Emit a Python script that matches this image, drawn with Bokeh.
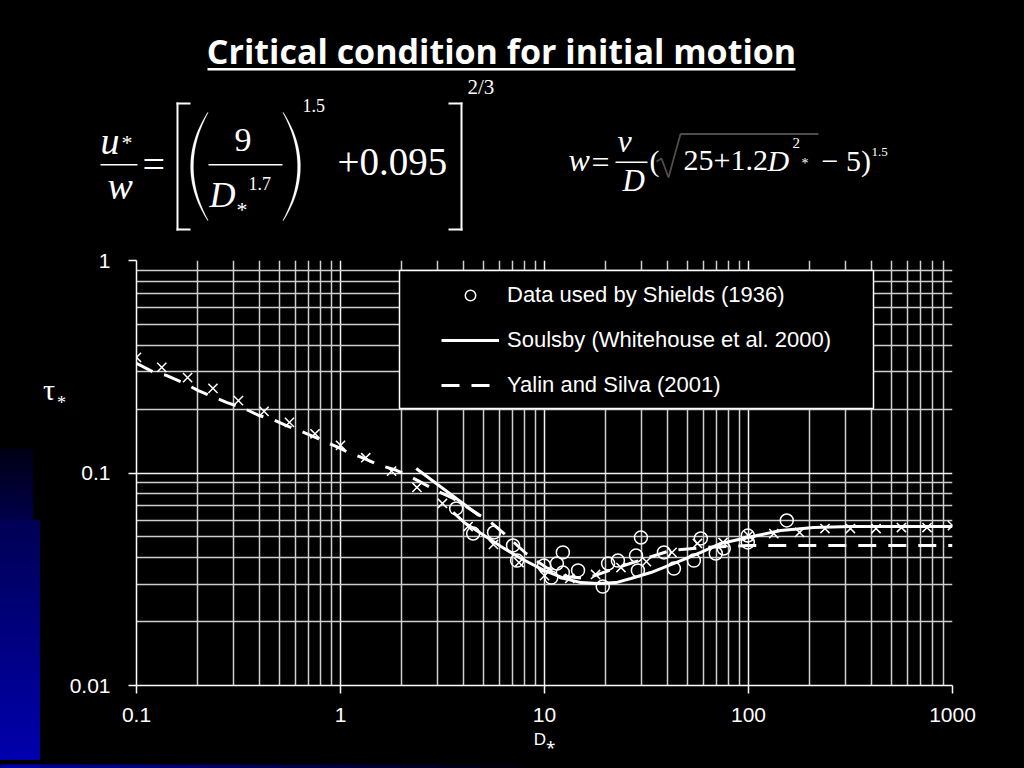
import numpy as np
from bokeh.plotting import figure
from bokeh.layouts import column, row
from bokeh.models import (FixedTicker, Label, BoxAnnotation, PolyAnnotation, Legend, LegendItem,
                          CustomJSTickFormatter, GlobalInlineStyleSheet, Div)
from bokeh.core.validation import silence
from bokeh.core.validation.warnings import MISSING_RENDERERS
from bokeh.embed import file_html
from bokeh.resources import INLINE

silence(MISSING_RENDERERS, True)

# ---------------- data ----------------
shields_d = [3.69, 4.47, 5.66, 7.01, 7.34, 9.95, 10.8, 11.5, 12.3, 12.3, 14.6, 19.3, 20.5, 22.9,
             28.1, 28.7, 29.7, 38.5, 43.1, 54.0, 58.4, 69.1, 75.6, 99.2, 99.2, 154]
shields_tau = [0.0681, 0.0519, 0.0525, 0.0456, 0.0387, 0.0367, 0.0322, 0.0375, 0.0423, 0.0340,
               0.0348, 0.0292, 0.0375, 0.0387, 0.0409, 0.0348, 0.0497, 0.0423, 0.0355, 0.0387,
               0.0492, 0.0418, 0.0441, 0.0508, 0.0471, 0.0598]

soulsby_d = [3.57, 4.04, 4.89, 6.12, 7.67, 9.95, 12.5, 15.1, 18.3, 22.4, 26.5, 33.2, 46.6, 58.4,
             73.1, 99.2, 144, 209, 317, 557, 1000]
soulsby_tau = [0.0652, 0.0585, 0.0519, 0.0451, 0.0396, 0.0348, 0.0319, 0.0305, 0.0302, 0.0305,
               0.0319, 0.0340, 0.0387, 0.0423, 0.0466, 0.0497, 0.0536, 0.0554, 0.0560, 0.0560, 0.0560]

yalin_d = [0.1, 0.1225, 0.140, 0.172, 0.201, 0.241, 0.276, 0.338, 0.396, 0.474, 0.543, 0.664, 0.778,
           0.975, 1.09, 1.31, 1.55, 1.88, 2.15, 2.54, 2.94, 3.57, 5.47, 6.34, 7.09, 8.12, 10.2, 12.7,
           16.0, 24.5, 41.6, 60.4, 99.2, 1000]
yalin_tau = [0.328, 0.297, 0.288, 0.264, 0.244, 0.227, 0.215, 0.201, 0.187, 0.177, 0.167, 0.155, 0.145,
             0.132, 0.125, 0.117, 0.109, 0.103, 0.0973, 0.0893, 0.0827, 0.0759, 0.0585, 0.0519, 0.0471,
             0.0418, 0.0359, 0.0326, 0.0319, 0.0367, 0.0432, 0.0446, 0.0456, 0.0456]

cross_d = [0.1, 0.133, 0.178, 0.237, 0.316, 0.422, 0.562, 0.75, 1.0, 1.33, 1.78, 2.37, 3.16, 4.22,
           5.62, 7.5, 10, 13.3, 17.8, 23.7, 31.6, 42.2, 56.2, 75, 100, 133, 178, 237, 316, 422, 562,
           750, 1000]
cross_tau = [0.350, 0.314, 0.281, 0.250, 0.219, 0.195, 0.173, 0.153, 0.135, 0.118, 0.102, 0.0855,
             0.0719, 0.0560, 0.0461, 0.0379, 0.0329, 0.0319, 0.0333, 0.0359, 0.0383, 0.0423, 0.0466,
             0.0471, 0.0508, 0.0519, 0.0525, 0.0548, 0.0548, 0.0548, 0.0554, 0.0554, 0.0566]

seg_d = [2.35, 4.78]
seg_tau = [0.105, 0.0631]

x_ticks = [0.1, 1, 10, 100, 1000]
x_tick_labels = ["0.1", "1", "10", "100", "1000"]
y_ticks = [0.01, 0.1, 1]
y_tick_labels = ["0.01", "0.1", "1"]

legend_labels = ["Data used by Shields (1936)", "Soulsby (Whitehouse et al. 2000)", "Yalin and Silva (2001)"]
title_text = "Critical condition for initial motion"
x_title = "D\u204e"

# ---------------- layout (page pixels) ----------------
PAGE_W, PAGE_H = 1024, 768
HEAD_H = 236          # header band with title and equations
FOOT_H = 8            # thin band at the very bottom
STRIP_W = 66          # left band with the y title
MID_H = PAGE_H - HEAD_H - FOOT_H
FL, FR, FT, FB = 135, 952, 260, 685   # plot frame edges in page pixels
BASE = 0.385          # label baseline correction (fraction of font size)


def blank(w, h):
    f = figure(width=w, height=h, output_backend="svg", toolbar_location=None,
               x_range=(0, 1), y_range=(0, 1), min_border=0,
               x_axis_location=None, y_axis_location=None, title=None)
    f.background_fill_color = "black"
    f.border_fill_color = "black"
    f.outline_line_color = None
    f.xgrid.visible = False
    f.ygrid.visible = False
    return f


def box(f, org, x0, x1, y0, y1, color="white", alpha=1.0, line=None, lw=0):
    ox, ob = org
    f.add_layout(BoxAnnotation(left=x0 - ox, right=x1 - ox, top=ob - y0, bottom=ob - y1,
                               left_units="screen", right_units="screen",
                               top_units="screen", bottom_units="screen",
                               fill_color=color, fill_alpha=alpha, line_color=line, line_width=lw,
                               line_alpha=1.0 if line else 0.0))


def txt(f, org, s, X, Y, size, font="Liberation Serif", style="normal", align="left"):
    ox, ob = org
    f.add_layout(Label(x=X - ox, y=ob - Y + BASE * size, x_units="screen", y_units="screen", text=s,
                       text_font=font, text_font_size=f"{size}px", text_font_style=style,
                       text_color="white", text_align=align, text_baseline="alphabetic"))


def poly(f, org, pts, fill=True, lw=1.0):
    ox, ob = org
    f.add_layout(PolyAnnotation(xs=[a - ox for a, b in pts], ys=[ob - b for a, b in pts],
                                xs_units="screen", ys_units="screen",
                                fill_color="white", fill_alpha=1.0 if fill else 0.0,
                                line_color="white", line_width=lw))


def paren(f, org, x_end, x_mid, y_top, y_bot, n=30):
    t = np.linspace(-1, 1, n)
    ys = (y_top + y_bot) / 2 + (y_bot - y_top) / 2 * t
    outer = x_end + (x_mid - x_end) * (1 - t ** 2)
    sgn = 1 if x_mid < x_end else -1
    inner = outer + sgn * (0.8 + 2.2 * (1 - t ** 2))
    pts = list(zip(outer, ys)) + list(zip(inner[::-1], ys[::-1]))
    poly(f, org, pts, fill=True, lw=0.5)


# ---------------- header: title + equations ----------------
head = blank(PAGE_W, HEAD_H)
head.stylesheets = [GlobalInlineStyleSheet(css="html, body { background-color: #000000; margin: 0; }")]
H0 = (0, HEAD_H)
txt(head, H0, title_text, 501, 64, 34, font="Open Sans", style="bold", align="center")
box(head, H0, 207, 795, 67.5, 70)

# equation 1
txt(head, H0, "u", 100, 155, 38, style="italic")
txt(head, H0, "*", 121, 150, 22)
box(head, H0, 100, 137, 163.5, 165)
txt(head, H0, "w", 107, 200, 38, style="italic")
txt(head, H0, "=", 142, 179, 40)
box(head, H0, 176, 178, 102, 230)
box(head, H0, 176, 190, 102, 104)
box(head, H0, 176, 190, 228, 230)
paren(head, H0, 207, 190, 112, 220)
txt(head, H0, "9", 234, 153, 34)
box(head, H0, 208, 282, 163.5, 165)
txt(head, H0, "D", 209, 208, 36, style="italic")
txt(head, H0, "*", 236, 217, 22)
txt(head, H0, "1.7", 248, 190, 18)
paren(head, H0, 283, 300, 112, 220)
txt(head, H0, "1.5", 302, 112, 18)
txt(head, H0, "+0.095", 337, 177, 39)
box(head, H0, 460, 462, 102, 230)
box(head, H0, 448, 462, 102, 104)
box(head, H0, 448, 462, 228, 230)
txt(head, H0, "2/3", 467, 95, 21)

# equation 2
txt(head, H0, "w", 568, 172, 32, style="italic")
txt(head, H0, "=", 591, 174, 32)
txt(head, H0, "ν", 617, 153, 32, style="italic")
box(head, H0, 615, 647, 161, 162.5)
txt(head, H0, "D", 622, 192, 31, style="italic")
txt(head, H0, "(", 649, 172, 30)
poly(head, H0, [(656, 161), (661, 158), (668, 177), (680, 133.5), (818, 133.5),
                (680, 133.5), (668, 177), (661, 158)], fill=False, lw=1.8)
txt(head, H0, "25+1.2", 683, 172, 30)
txt(head, H0, "D", 767, 172, 30, style="italic")
txt(head, H0, "2", 792, 148, 15)
txt(head, H0, "*", 801, 168, 14)
txt(head, H0, "− 5)", 821, 172, 30)
txt(head, H0, "1.5", 871, 157, 13)

# ---------------- left strip: blue shading + y title (html) ----------------
top0 = HEAD_H
strip_html = (
    f'<div style="position:relative;width:{STRIP_W}px;height:{MID_H}px;overflow:hidden;background:#000;">'
    f'<div style="position:absolute;left:0;top:{448 - top0}px;width:33px;height:72px;'
    f'background:linear-gradient(#000012,#00004c);"></div>'
    f'<div style="position:absolute;left:0;top:{520 - top0}px;width:40px;height:{760 - 520}px;'
    f'background:linear-gradient(#000054,#0000ae);"></div>'
    f'<span style="position:absolute;left:43px;top:{400 - 25 - top0}px;font-family:\'Liberation Serif\';'
    f'font-size:30px;line-height:30px;color:#fff;">τ</span>'
    f'<span style="position:absolute;left:57px;top:{409 - 15 - top0}px;font-family:\'Liberation Serif\';'
    f'font-size:18px;line-height:18px;color:#fff;">*</span>'
    f'</div>'
)
strip = Div(text=strip_html, width=STRIP_W, height=MID_H, margin=0)

# ---------------- footer: thin blue band ----------------
foot = blank(PAGE_W, FOOT_H)
F0 = (0, PAGE_H)
box(foot, F0, -5, 40, 750, 775, color=(0, 0, 174))
for i in range(12):
    box(foot, F0, 40 + i * 40, 82 + i * 40, 750, 775, color=(0, 0, int(150 * (1 - i / 12))))

# ---------------- main chart ----------------
MAIN_W = PAGE_W - STRIP_W
x_minor = [m * 10.0 ** e for e in range(-1, 3) for m in range(2, 10)]
y_minor = [m * 10.0 ** e for e in range(-2, 0) for m in range(2, 10)]

p = figure(width=MAIN_W, height=MID_H, x_axis_type="log", y_axis_type="log",
           x_range=(0.1, 1000), y_range=(0.01, 1),
           output_backend="svg", toolbar_location=None, title=None,
           min_border_left=FL - STRIP_W, min_border_right=PAGE_W - FR,
           min_border_top=FT - HEAD_H, min_border_bottom=HEAD_H + MID_H - FB)
p.background_fill_color = "black"
p.border_fill_color = "black"
p.outline_line_color = None

fmt_code = """
const i = vals.findIndex(v => Math.abs(Math.log10(v) - Math.log10(tick)) < 1e-6);
return i >= 0 ? labs[i] : '';
"""
p.xaxis.ticker = FixedTicker(ticks=x_ticks, minor_ticks=x_minor)
p.yaxis.ticker = FixedTicker(ticks=y_ticks, minor_ticks=y_minor)
p.xaxis.formatter = CustomJSTickFormatter(args=dict(vals=x_ticks, labs=x_tick_labels), code=fmt_code)
p.yaxis.formatter = CustomJSTickFormatter(args=dict(vals=y_ticks, labs=y_tick_labels), code=fmt_code)

for ax in (p.xaxis, p.yaxis):
    ax.axis_line_color = "white"
    ax.axis_line_width = 1.5
    ax.major_tick_line_color = "white"
    ax.major_tick_line_width = 1.5
    ax.major_tick_out = 8
    ax.major_tick_in = 0
    ax.minor_tick_out = 0
    ax.minor_tick_in = 0
    ax.major_label_text_color = "white"
    ax.major_label_text_font = "Liberation Sans"
    ax.major_label_text_font_size = "21px"
p.xaxis.major_label_standoff = 14
p.yaxis.major_label_standoff = 18
p.xaxis.axis_label = x_title
p.xaxis.axis_label_text_font = "Liberation Sans"
p.xaxis.axis_label_text_font_style = "normal"
p.xaxis.axis_label_text_font_size = "17px"
p.xaxis.axis_label_text_color = "white"
p.xaxis.axis_label_standoff = 5

for g in (p.xgrid, p.ygrid):
    g.grid_line_color = "#f2f2f2"
    g.grid_line_width = 1.5
    g.minor_grid_line_color = "#cfcfcf"
    g.minor_grid_line_width = 1.5

r_dash = p.line(yalin_d, yalin_tau, line_color="white", line_width=3, line_dash="18 12")
r_solid = p.line(soulsby_d, soulsby_tau, line_color="white", line_width=3)
p.line(seg_d, seg_tau, line_color="white", line_width=3)
p.scatter(cross_d, cross_tau, marker="x", size=13, line_color="white", line_width=1.5)
r_circ = p.scatter(shields_d, shields_tau, marker="circle", size=13, line_color="white",
                   line_width=1.5, fill_alpha=0)

M0 = (FL, FB)
box(p, M0, 398, 872, 270, 408, color="black", alpha=1.0, line="white", lw=1.5)
legend = Legend(items=[LegendItem(label=legend_labels[0], renderers=[r_circ]),
                       LegendItem(label=legend_labels[1], renderers=[r_solid]),
                       LegendItem(label=legend_labels[2], renderers=[r_dash])],
                location=(440 - FL, FB - 398), orientation="vertical",
                glyph_width=58, glyph_height=26, label_height=26, spacing=19,
                padding=0, margin=0, label_standoff=8,
                label_text_font="Liberation Sans", label_text_font_size="22px",
                label_text_color="white", background_fill_alpha=0, border_line_alpha=0)
p.add_layout(legend)

page = column(head, row(strip, p, spacing=0), foot, spacing=0)

open("out.html", "w").write(file_html(page, INLINE))
